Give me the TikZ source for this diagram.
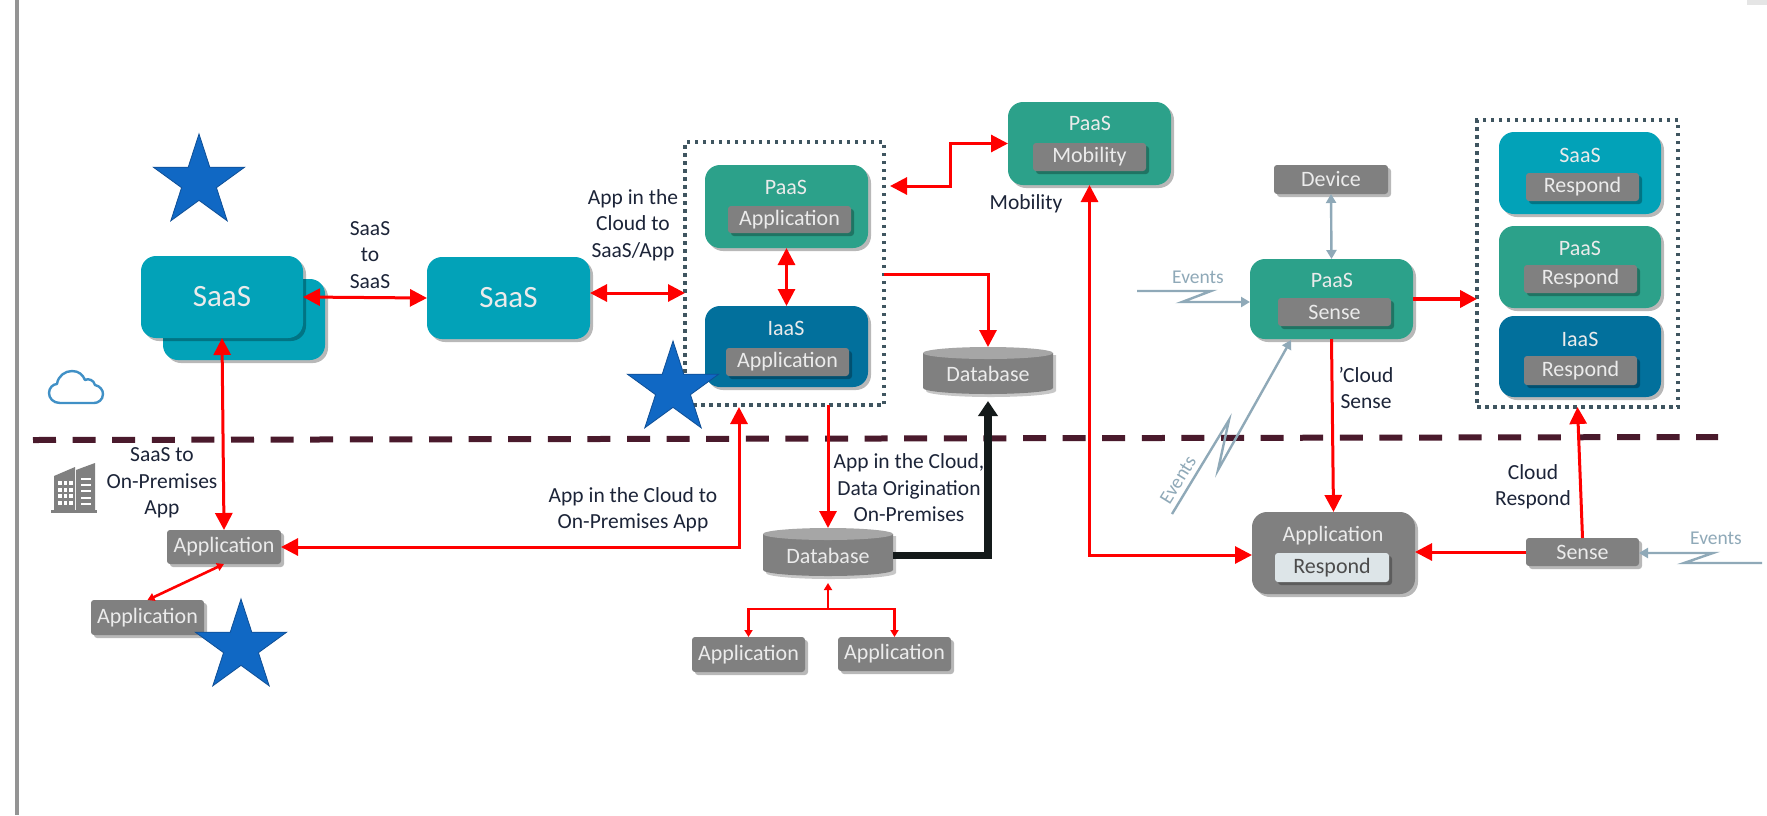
\documentclass[tikz,border=0pt]{standalone}
\usepackage{fontspec}
\setmainfont{Carlito}
\usetikzlibrary{arrows.meta,shapes.geometric,shadows}
\definecolor{saascol}{HTML}{02A2B8}
\definecolor{paascol}{HTML}{2CA18A}
\definecolor{iaascol}{HTML}{02709C}
\definecolor{graybox}{HTML}{808080}
\definecolor{starcol}{HTML}{1068C4}
\definecolor{starline}{HTML}{0F4F96}
\definecolor{evcol}{HTML}{8FA9B8}
\definecolor{dashcol}{HTML}{4A1A2C}
\definecolor{dotcol}{HTML}{3F5560}
\definecolor{blackarrow}{HTML}{141A1A}
\definecolor{labelcol}{HTML}{1C2438}
\definecolor{lightbox}{HTML}{DDE5E8}
\newcommand{\boxat}[7]{\node[#6,minimum width={(#4-#2)*1pt},minimum height={(#5-#3)*1pt}] (#1) at ({(#2+#4)/2},{(#3+#5)/2}) {#7};}
\newcommand{\dbbody}[4]{%
  \fill[black,opacity=.22] (#1+3,#2+8) -- (#3+3,#2+8) -- (#3+3,#4-3) arc[x radius={(#3-#1)/2},y radius=6,start angle=0,end angle=180] -- cycle;
  \fill[graybox] (#1,#2+6) -- (#3,#2+6) -- (#3,#4-6) arc[x radius={(#3-#1)/2},y radius=6,start angle=0,end angle=180] -- cycle;
  \fill[black!35] ({(#1+#3)/2},#2+6) ellipse[x radius={(#3-#1)/2},y radius=6];
}
\tikzset{
  x=1pt,y=-1pt,
  shade/.style={drop shadow={shadow xshift=3pt,shadow yshift=-3pt,opacity=.28,fill=black}},
  base/.style={inner sep=0pt,outer sep=0pt,shade},
  bigbox/.style={base,rounded corners=15pt},
  saasbox/.style={bigbox,fill=saascol},
  paasbox/.style={bigbox,fill=paascol},
  iaasbox/.style={bigbox,fill=iaascol},
  appbig/.style={bigbox,fill=graybox},
  graychip/.style={base,rounded corners=3pt,fill=graybox,text=white!92!black,font=\fontsize{22}{26}\selectfont},
  lightchip/.style={base,rounded corners=3pt,fill=lightbox,text=black!70,font=\fontsize{22}{26}\selectfont},
  title/.style={text=white!92!black,font=\fontsize{22}{26}\selectfont,inner sep=0pt},
  bigtitle/.style={text=white!92!black,font=\fontsize{31}{36}\selectfont,inner sep=0pt},
  lab/.style={text=labelcol,align=center,inner sep=0pt,font=\fontsize{21.5}{26.5}\selectfont},
  evtext/.style={text=evcol,inner sep=0pt,font=\fontsize{19.5}{22}\selectfont},
  dotbox/.style={draw=dotcol,line width=3.5pt,dash pattern=on 3.5pt off 4.5pt},
  starshape/.style={star,star points=5,star point ratio=2.618,minimum size=96pt,inner sep=0pt,fill=starcol,draw=starline,line width=.8pt},
  dbtext/.style={inner sep=0pt,outer sep=0pt,text=white!92!black,font=\fontsize{22}{26}\selectfont},
  redline/.style={draw=red,line width=3pt},
  tipb/.tip={Triangle[length=17pt,width=17pt]},
  tips/.tip={Triangle[length=7pt,width=8pt]},
  rone/.style={redline,-{tipb}},
  rtwo/.style={redline,{tipb}-{tipb}},
  rsmall/.style={draw=red,line width=2.6pt,-{tips}},
  evline/.style={draw=evcol,line width=2.4pt,-{Triangle[length=9pt,width=10pt]}},
}
\begin{document}
\begin{tikzpicture}
\useasboundingbox (0,0) rectangle (1767,815);
\fill[white] (0,0) rectangle (1767,815);
% page edges
\fill[black!42] (14.5,0) rectangle (19,815);
\fill[black!10] (1747,0) rectangle (1767,5);
% boundary
\coordinate (bl) at (33,440);
\coordinate (br) at (1718,437);
\draw[dashcol,line width=6pt,dash pattern=on 23pt off 16.6pt] (bl) -- (br);
% cloud
\draw[draw=blue!40!cyan!70!black!75,line width=2.4pt,line join=round] (60,403) .. controls (53,403) and (49,398) .. (49,393) .. controls (49,388) and (53,384) .. (57,384) .. controls (58,376) and (65,371) .. (72,371) .. controls (79,371) and (83,375) .. (85,380) .. controls (88,378) and (94,380) .. (95,385) .. controls (100,386) and (103,390) .. (103,394) .. controls (103,400) and (98,403) .. (94,403) -- cycle;
% building
\fill[black!50] (54,476) -- (75,467) -- (75,511) -- (54,511) -- cycle;
\fill[black!50] (76,470) -- (95,463) -- (95,511) -- (76,511) -- cycle;
\fill[black!50] (51,510) rectangle (97,513);
\foreach \i in {0,1,2} \foreach \j in {0,1,2,3} \fill[white] ({58+5.5*\i},{481+6.5*\j}) rectangle ++(3.6,4.4);
\foreach \j in {0,1,2,3,4} \fill[white] (81,{478+6.2*\j}) rectangle ++(10,2);
% SaaS boxes
\boxat{saasback}{163}{279}{325}{360}{saasbox}{}
\boxat{saasfront}{141}{256}{303}{338}{saasbox}{}
\node[bigtitle] (saasfronttxt) at (saasfront) {SaaS};
\boxat{saastwo}{427}{257}{590}{339}{saasbox}{}
\node[bigtitle] (saastwotxt) at (saastwo) {SaaS};
% dotted group 1
\boxat{groupone}{685}{142}{884}{405}{dotbox,inner sep=0pt,outer sep=0pt}{}
\boxat{paasapp}{705}{165}{868}{248}{paasbox}{}
\node[title] (paasapptxt) at (786,187) {PaaS};
\boxat{paasappchip}{728}{206}{851}{233}{graychip}{Application}
\boxat{iaasapp}{705}{306}{868}{387}{iaasbox}{}
\node[title] (iaasapptxt) at (786,328) {IaaS};
\boxat{iaasappchip}{726}{348}{849}{376}{graychip}{Application}
% PaaS mobility
\boxat{paasmob}{1008}{102}{1171}{185}{paasbox}{}
\node[title] (paasmobtxt) at (1090,123) {PaaS};
\boxat{paasmobchip}{1033}{143}{1146}{171}{graychip}{Mobility}
% databases
\dbbody{923}{347}{1053}{394}
\boxat{dbtop}{923}{347}{1053}{401}{dbtext}{Database}
\dbbody{763}{528}{893}{576}
\boxat{dblow}{763}{528}{893}{583}{dbtext}{Database}
% applications
\boxat{appa}{167}{530}{281}{564}{graychip}{Application}
\boxat{appb}{91}{600}{204}{635}{graychip}{Application}
\boxat{appc}{692}{637}{805}{672}{graychip}{Application}
\boxat{appd}{838}{637}{951}{671}{graychip}{Application}
% sense
\boxat{device}{1274}{165}{1388}{194}{graychip}{Device}
\boxat{paassense}{1250}{259}{1413}{339}{paasbox}{}
\node[title] (paassensetxt) at (1332,280) {PaaS};
\boxat{paassensechip}{1278}{298}{1391}{326}{graychip}{Sense}
\boxat{apprespond}{1252}{512}{1415}{594}{appbig}{}
\node[title] (apprespondtxt) at (1333,536) {Application};
\boxat{apprespondchip}{1275}{553}{1389}{582}{lightchip}{Respond}
\boxat{sensesmall}{1526}{538}{1639}{566}{graychip}{Sense}
% dotted group 2
\boxat{grouptwo}{1477}{120}{1678}{407}{dotbox,inner sep=0pt,outer sep=0pt}{}
\boxat{saasresp}{1499}{132}{1661}{214}{saasbox}{}
\node[title] (saasresptxt) at (1580,155) {SaaS};
\boxat{saasrespchip}{1526}{173}{1639}{201}{graychip}{Respond}
\boxat{paasresp}{1499}{226}{1661}{308}{paasbox}{}
\node[title] (paasresptxt) at (1580,248) {PaaS};
\boxat{paasrespchip}{1524}{265}{1637}{293}{graychip}{Respond}
\boxat{iaasresp}{1499}{316}{1661}{397}{iaasbox}{}
\node[title] (iaasresptxt) at (1580,339) {IaaS};
\boxat{iaasrespchip}{1524}{356}{1637}{385}{graychip}{Respond}
% red connectors
\draw[rtwo] (saasfront.east) -- (saastwo.west);
\draw[rtwo] (saasfront.south) -- (appa.north);
\draw[rsmall,{tips}-{tips}] (appa.south) -- (appb.north);
\coordinate (gonew) at (685,293);
\draw[rtwo] (saastwo.east |- gonew) -- (gonew);
\draw[rtwo] (paasapp.south) -- (iaasapp.north);
\coordinate (goneb) at (739,407);
\draw[rtwo] (appa.east) -- (goneb |- appa.east) -- (goneb);
\coordinate (gonem) at (890,186);
\coordinate (kneem) at (950,186);
\draw[rtwo] (gonem) -- (kneem) |- (paasmob.west);
\coordinate (goned) at (884,274);
\draw[rone] (goned) -| (dbtop.north);
\coordinate (goneo) at (828,405);
\draw[rone] (goneo) -- (dblow.north);
\draw[rtwo] (paasmob.south) |- (apprespond.west |- 0,555);
\draw[rone] (paassense.south) -- (apprespond.north);
\draw[draw=red,line width=4pt,-{tipb}] (paassense.east) -- (grouptwo.west |- paassense.east);
\draw[rone] (sensesmall.west) -- (apprespond.east |- sensesmall.west);
\draw[rone] (sensesmall.north) -- (grouptwo.south);
% black connector
\draw[blackarrow,line width=7.5pt,-{Triangle[length=15pt,width=19pt]}] (dblow.east) -| (dbtop.south);
% tree
\coordinate (treej) at (828,609);
\draw[rsmall] (treej) -- (dblow.south);
\draw[rsmall] (treej) -| (appc.north);
\draw[rsmall] (treej) -| (appd.north);
% grey connectors
\draw[evline,{Triangle[length=9pt,width=10pt]}-{Triangle[length=9pt,width=10pt]}] (device.south) -- (paassense.north);
\coordinate (eva) at (1137,291);
\coordinate (evb) at (1211,291);
\coordinate (evc) at (1182,302);
\draw[evline,line join=miter] (eva) -- (evb) -- (evc) -- (paassense.west |- evc);
\coordinate (evd) at (1172,514);
\coordinate (eve) at (1229,420);
\coordinate (evf) at (1218,470);
\coordinate (evg) at (1291,340);
\draw[evline,line join=miter] (evd) -- (eve) -- (evf) -- (evg);
\coordinate (evh) at (1762,563);
\coordinate (evi) at (1684,563);
\coordinate (evj) at (1713,553);
\draw[evline,line join=miter] (evh) -- (evi) -- (evj) -- (sensesmall.east |- evj);
\node[evtext] (evtxta) at (1198,277) {Events};
\node[evtext,rotate=58] (evtxtb) at (1178,480) {Events};
\node[evtext] (evtxtc) at (1716,538) {Events};
% labels
\node[lab] (lsaas) at (370,255) {SaaS\\to\\SaaS};
\node[lab] (lonprem) at (162,483) {SaaS to\\On-Premises\\App};
\node[lab] (lcloud) at (633,225) {App in the\\Cloud to\\SaaS/App};
\node[lab] (lcloudprem) at (633,510) {App in the Cloud to\\On-Premises App};
\node[lab] (lmob) at (1026,204) {Mobility};
\node[lab] (ldata) at (909,488) {App in the Cloud,\\Data Origination\\On-Premises};
\node[lab] (lsense) at (1366,388) {'Cloud\\Sense};
\node[lab] (lresp) at (1533,487) {Cloud\\Respond};
% stars
\node[starshape] (starone) at (199,182) {};
\node[starshape] (startwo) at (241,647) {};
\node[starshape] (starthree) at (673,389) {};
\end{tikzpicture}
\end{document}
